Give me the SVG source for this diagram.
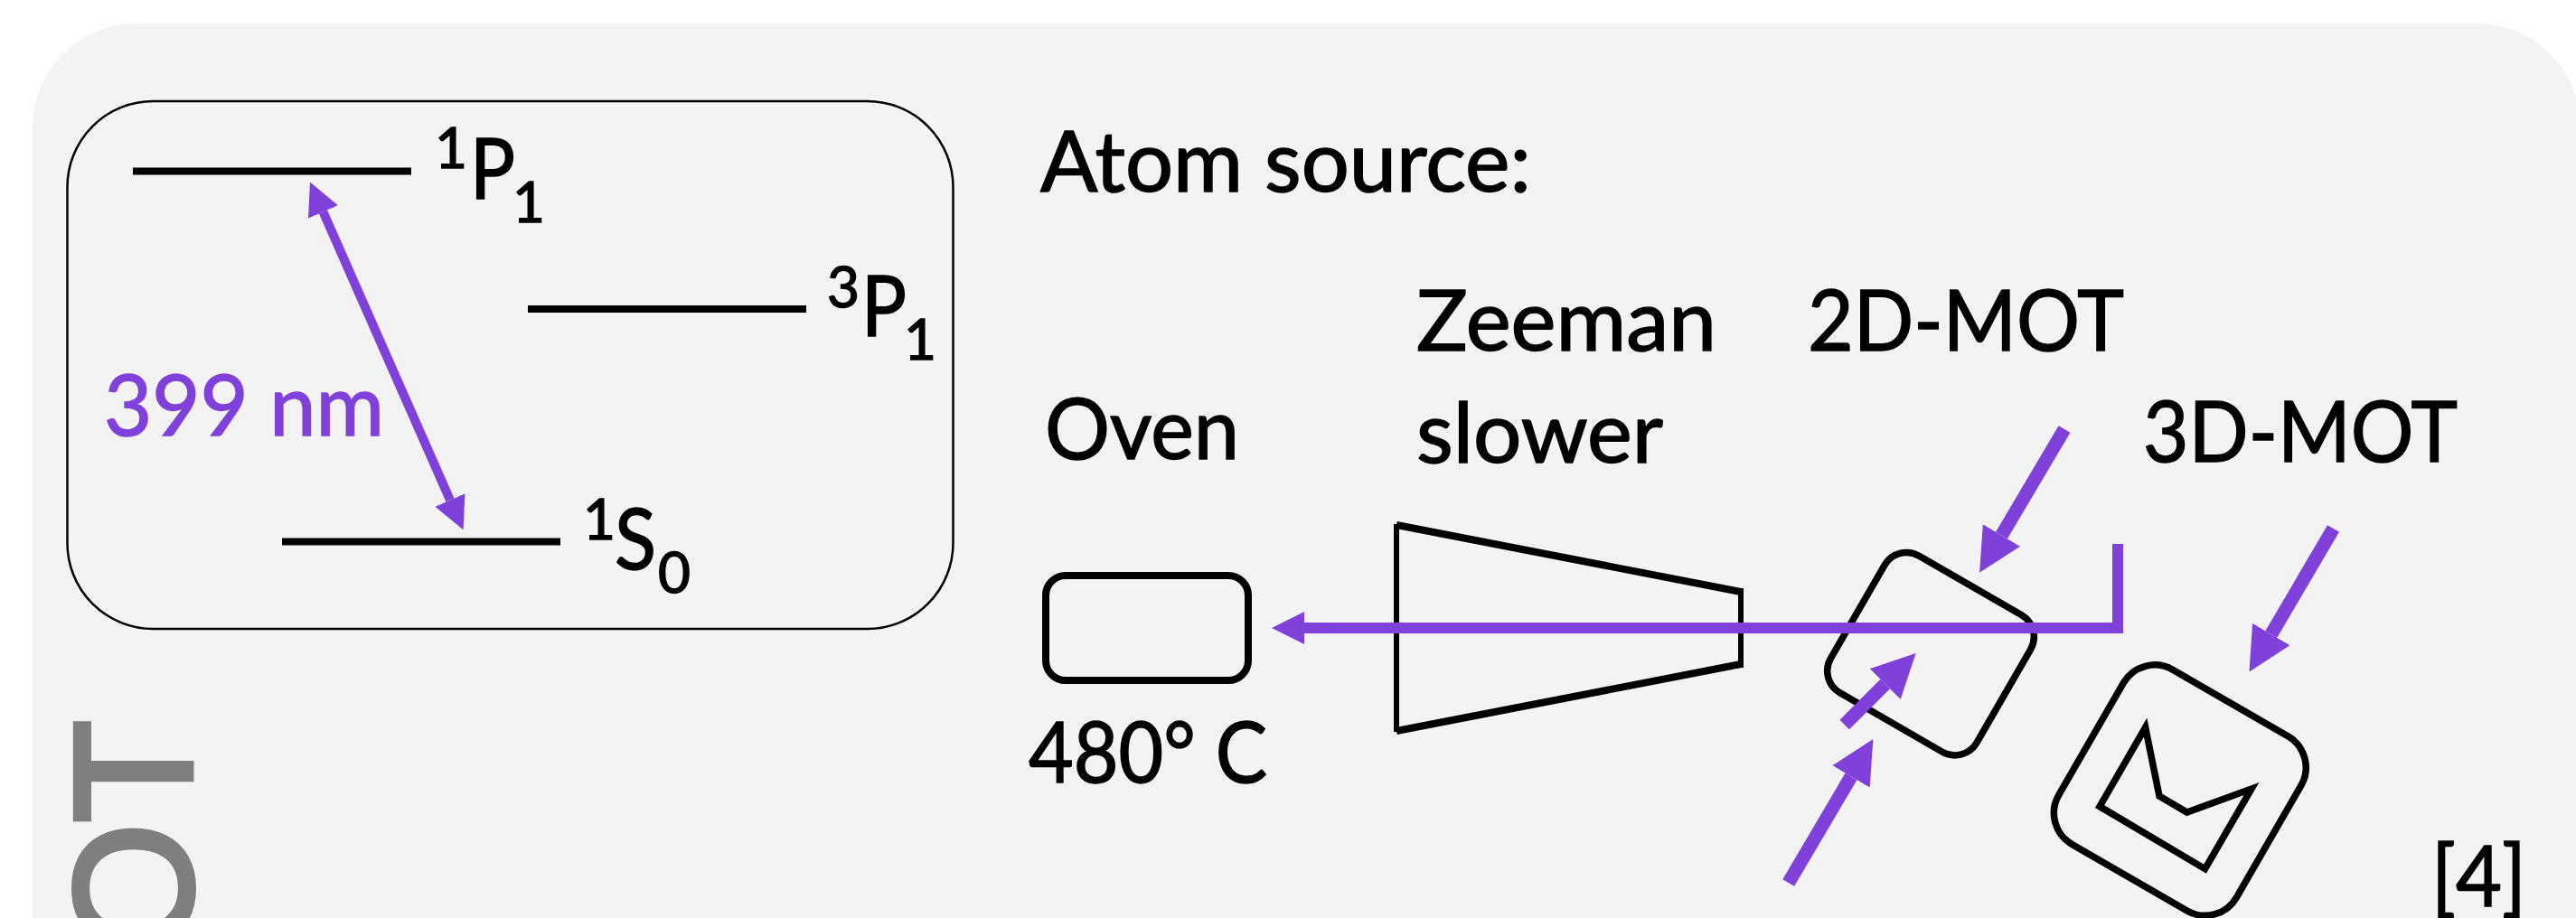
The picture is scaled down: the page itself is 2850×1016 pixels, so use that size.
<svg xmlns="http://www.w3.org/2000/svg" width="2850" height="1016" viewBox="0 0 2850 1016">
<style>
text{font-family:"Lato","Carlito","Liberation Sans",sans-serif;fill:#000;stroke:#000;stroke-width:1.5;font-variant-numeric:lining-nums;font-feature-settings:"lnum" 1}
.t{font-size:94px}
.sup{font-size:62px}
.v{font-size:94px;fill:#8040da;stroke:#8040da}
.grey{font-family:"Liberation Sans",Arial,sans-serif;font-size:186px;fill:#7f7f7f;stroke:#7f7f7f;stroke-width:6}
.lvl{stroke:#000;stroke-width:8;fill:none}
.blk{stroke:#000;fill:none;stroke-width:7.500}
.beam{stroke:#8040da;stroke-width:15;fill:none}
</style>
<defs>
<marker id="h48" markerUnits="userSpaceOnUse" viewBox="0 0 48 48" markerWidth="48" markerHeight="48" refX="0" refY="24" orient="auto"><path d="M0,0L48,24L0,48Z" fill="#8040da"/></marker>
<marker id="h36" markerUnits="userSpaceOnUse" viewBox="0 0 36 36" markerWidth="36" markerHeight="36" refX="0" refY="18" orient="auto-start-reverse"><path d="M0,0L36,18L0,36Z" fill="#8040da"/></marker>
</defs>
<rect id="panel" x="36" y="26" width="2819" height="1100" rx="115" ry="115" fill="#f3f3f3"/>
<text id="side-label" class="grey" transform="translate(212,797) rotate(-90)" text-anchor="end">OT</text>
<g id="level-diagram">
<rect x="74.500" y="112" width="980" height="584" rx="95" ry="95" fill="none" stroke="#000" stroke-width="2.500"/>
<line class="lvl" x1="147" y1="189.500" x2="455" y2="189.500"/>
<line class="lvl" x1="584" y1="342" x2="892" y2="342"/>
<line class="lvl" x1="312" y1="599.500" x2="620" y2="599.500"/>
<text><tspan class="sup" x="481" y="186">1</tspan><tspan class="t" x="520" y="219.500" textLength="50" lengthAdjust="spacingAndGlyphs">P</tspan><tspan class="sup" x="567" y="245.500">1</tspan></text>
<text><tspan class="sup" x="915" y="340">3</tspan><tspan class="t" x="953" y="372" textLength="50" lengthAdjust="spacingAndGlyphs">P</tspan><tspan class="sup" x="1000" y="398">1</tspan></text>
<text><tspan class="sup" x="645" y="597">1</tspan><tspan class="t" x="680" y="630" textLength="46" lengthAdjust="spacingAndGlyphs">S</tspan><tspan class="sup" x="728" y="655.500">0</tspan></text>
<text class="v" x="115" y="482" textLength="310" lengthAdjust="spacingAndGlyphs">399 nm</text>
</g>
<g id="labels">
<text class="t" x="1151" y="212" textLength="543" lengthAdjust="spacingAndGlyphs">Atom source:</text>
<text class="t" x="1156" y="508" textLength="215" lengthAdjust="spacingAndGlyphs">Oven</text>
<text class="t" x="1567" y="388" textLength="332" lengthAdjust="spacingAndGlyphs">Zeeman</text>
<text class="t" x="1567" y="512" textLength="273" lengthAdjust="spacingAndGlyphs">slower</text>
<text class="t" x="2000" y="388" textLength="350" lengthAdjust="spacingAndGlyphs">2D-MOT</text>
<text class="t" x="2371" y="511" textLength="348" lengthAdjust="spacingAndGlyphs">3D-MOT</text>
<text class="t" x="1138" y="866" textLength="264" lengthAdjust="spacingAndGlyphs">480° C</text>
<text class="t" x="2690" y="1003" textLength="105" lengthAdjust="spacingAndGlyphs">[4]</text>
</g>
<g id="oven"><rect class="blk" style="stroke-width:8" x="1157" y="637" width="224" height="116" rx="22" ry="22"/></g>
<g id="zeeman-slower"><path class="blk" style="stroke-width:6" d="M1545,580V810M1926,651V739"/><path class="blk" style="stroke-width:8" d="M1545,581L1926,655M1926,735L1545,809"/></g>
<g id="mot-2d"><rect class="blk" x="2042.700" y="636.200" width="186.600" height="175" rx="28" ry="28" transform="rotate(30 2136 723.700)"/></g>
<g id="mot-3d">
<rect class="blk" x="2298.300" y="763.100" width="227" height="223" rx="40" ry="40" transform="rotate(30 2411.800 874.600)"/>
<path class="blk" d="M2373.600,805L2389,881L2419.600,899L2491,873L2439.600,961.700L2323,892.600Z"/>
</g>
<g id="connectors">
<line class="beam" style="stroke-width:10" x1="357.500" y1="234.500" x2="498" y2="553.500" marker-start="url(#h36)" marker-end="url(#h36)"/>
<path class="beam" style="stroke-width:12" d="M2343,602V695H1443" marker-end="url(#h36)"/>
<line class="beam" x1="2284" y1="475" x2="2214.500" y2="592.500" marker-end="url(#h48)"/>
<line class="beam" x1="2581.500" y1="585" x2="2512.800" y2="702" marker-end="url(#h48)"/>
<line class="beam" x1="1978.700" y1="977" x2="2048" y2="859.400" marker-end="url(#h48)"/>
<line class="beam" x1="2040.700" y1="802" x2="2085.700" y2="757" marker-end="url(#h48)"/>
</g>
</svg>
